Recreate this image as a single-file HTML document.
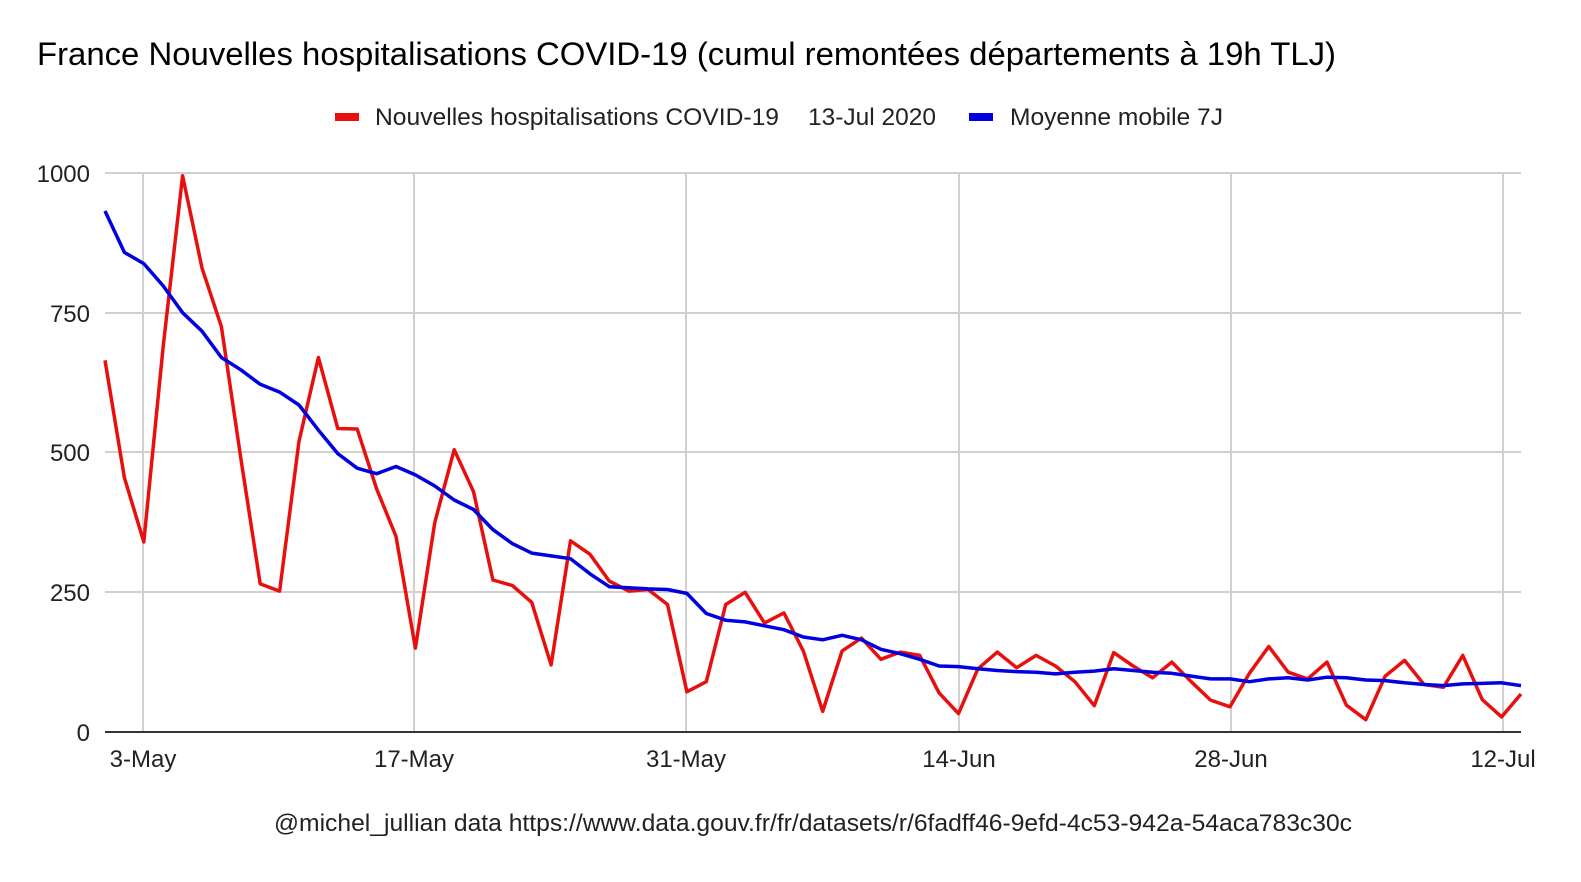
<!DOCTYPE html>
<html><head><meta charset="utf-8"><style>
body{margin:0;background:#fff;}
svg{display:block;font-family:"Liberation Sans",Arial,sans-serif;}
</style></head><body>
<svg id="s" width="1581" height="882" viewBox="0 0 1581 882">
<rect width="1581" height="882" fill="#fff"/>
<text x="37" y="65" font-size="32" fill="#000" textLength="1299" lengthAdjust="spacingAndGlyphs">France Nouvelles hospitalisations COVID-19 (cumul remontées départements à 19h TLJ)</text>
<rect x="335" y="113" width="24" height="8" fill="#e8100f"/>
<text x="375" y="125" font-size="24.5" fill="#222" textLength="404" lengthAdjust="spacingAndGlyphs">Nouvelles hospitalisations COVID-19</text>
<text x="808" y="125" font-size="24.5" fill="#222" textLength="128" lengthAdjust="spacingAndGlyphs">13-Jul 2020</text>
<rect x="969" y="113" width="24" height="8" fill="#0000e0"/>
<text x="1010" y="125" font-size="24.5" fill="#222" textLength="213" lengthAdjust="spacingAndGlyphs">Moyenne mobile 7J</text>
<g id="grid" stroke="#d0d0d0" stroke-width="2"></g>
<line x1="105" y1="732" x2="1521" y2="732" stroke="#333" stroke-width="2"/>
<g font-size="24" fill="#222" text-anchor="end">
<text x="90" y="182">1000</text><text x="90" y="322">750</text><text x="90" y="461">500</text><text x="90" y="601">250</text><text x="90" y="741">0</text>
</g>
<g font-size="24" fill="#222" text-anchor="middle">
<text x="143" y="767">3-May</text><text x="414" y="767">17-May</text><text x="686" y="767">31-May</text><text x="959" y="767">14-Jun</text><text x="1231" y="767">28-Jun</text><text x="1503" y="767">12-Jul</text>
</g>
<polyline id="red" fill="none" stroke="#e8100f" stroke-width="3.5" stroke-linejoin="round"/>
<polyline id="blue" fill="none" stroke="#0000e0" stroke-width="3.5" stroke-linejoin="round"/>
<text x="274" y="831" font-size="24" fill="#222" textLength="1078" lengthAdjust="spacingAndGlyphs">@michel_jullian data https://www.data.gouv.fr/fr/datasets/r/6fadff46-9efd-4c53-942a-54aca783c30c</text>
</svg>
<script>
var ns="http://www.w3.org/2000/svg",g=document.getElementById("grid");
[173,313,452,592].forEach(function(y){var l=document.createElementNS(ns,"line");l.setAttribute("x1",105);l.setAttribute("x2",1521);l.setAttribute("y1",y);l.setAttribute("y2",y);g.appendChild(l);});
[143,414,686,959,1231,1503].forEach(function(x){var l=document.createElementNS(ns,"line");l.setAttribute("x1",x);l.setAttribute("x2",x);l.setAttribute("y1",173);l.setAttribute("y2",732);g.appendChild(l);});
var r=[665,455,340,690,995,830,725,490,265,252,520,670,543,542,435,350,150,375,505,430,272,262,232,120,342,318,270,252,255,228,72,90,228,250,195,213,145,37,145,168,130,143,137,70,33,113,143,115,137,118,90,47,142,118,97,125,90,57,45,105,153,107,95,125,48,22,100,128,85,80,137,58,27,68];
var b=[932,858,838,798,750,717,670,648,622,608,585,540,498,472,462,475,460,440,415,398,362,337,320,315,310,283,260,258,256,255,248,212,200,197,190,183,170,165,173,165,148,140,130,118,117,113,110,108,107,104,107,109,113,110,107,105,100,95,95,90,95,97,93,98,97,93,92,88,85,83,86,87,88,83];
function pts(a){return a.map(function(v,i){return (105+i*(1416/73)).toFixed(1)+","+(732-v*0.559).toFixed(1);}).join(" ");}
document.getElementById("red").setAttribute("points",pts(r));
document.getElementById("blue").setAttribute("points",pts(b));
</script>
</body></html>
